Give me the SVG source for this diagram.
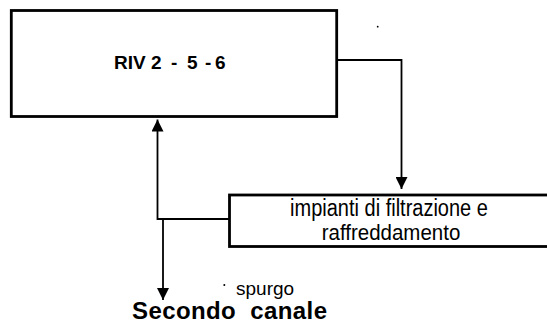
<svg xmlns="http://www.w3.org/2000/svg" width="547" height="324" viewBox="0 0 547 324">
<style>
.box{fill:#fff;stroke:#000;stroke-width:2.8}
.line{fill:none;stroke:#000;stroke-width:1.8}
.t{font-family:"Liberation Sans",Arial,sans-serif;fill:#000}
</style>
<defs>
<marker id="ah" viewBox="0 0 12 12" refX="12" refY="6" markerWidth="12" markerHeight="12" markerUnits="userSpaceOnUse" orient="auto">
<path d="M0,0 L12,6 L0,12 Z" fill="#000"/>
</marker>
</defs>
<rect width="547" height="324" fill="#fff"/>
<g id="riv">
<rect class="box" x="11.3" y="10.5" width="325.4" height="106"/>
<text class="t" y="69.3" font-size="19" font-weight="bold"><tspan x="114">RIV 2</tspan><tspan x="171">-</tspan><tspan x="187">5</tspan><tspan x="205">-</tspan><tspan x="215">6</tspan></text>
</g>
<g id="impianti">
<rect class="box" x="229.5" y="195" width="330" height="51.5"/>
<text class="t" font-size="20" text-anchor="middle" transform="translate(389,215.5) scale(1,1.15)">impianti di filtrazione e</text>
<text class="t" font-size="20.5" text-anchor="middle" transform="translate(391,240) scale(1,1.12)">raffreddamento</text>
</g>
<g id="secondo">
<text class="t" x="132" y="319" font-size="24" font-weight="bold" textLength="195" lengthAdjust="spacing" xml:space="preserve">Secondo  canale</text>
</g>
<g id="connectors">
<path class="line" d="M336.7,60 H401.5 V189" marker-end="url(#ah)"/>
<path class="line" d="M229,219 H157.5 V119.5" marker-end="url(#ah)"/>
<path class="line" d="M163,219 V300" marker-end="url(#ah)"/>
<text class="t" x="236" y="295" font-size="19">spurgo</text>
<circle cx="224.3" cy="285" r="1" fill="#000"/>
<circle cx="377.7" cy="26.7" r="0.9" fill="#000"/>
</g>
</svg>
